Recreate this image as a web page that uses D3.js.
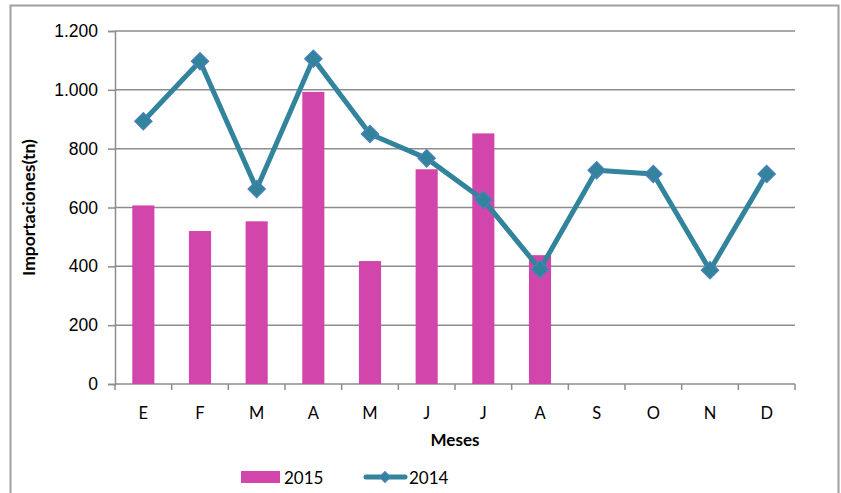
<!DOCTYPE html>
<html>
<head>
<meta charset="utf-8">
<script src="https://cdn.jsdelivr.net/npm/d3@7"></script>
<style>
  body { margin: 0; background: #fff; }
  svg { font-family: Lato, "Open Sans", sans-serif; }
</style>
</head>
<body>
<div id="place"></div>
<script>
// datos
let meses = ["E", "F", "M", "A", "M", "J", "J", "A", "S", "O", "N", "D"];
let valores2015 = [607, 520, 553, 993, 418, 730, 852, 438];
let valores2014 = [893, 1097, 663, 1106, 850, 767, 626, 390, 727, 714, 387, 714];
let ticksY = [0, 200, 400, 600, 800, 1000, 1200];

const W = 841, H = 493;
const margin = { top: 31, right: 46, bottom: 109, left: 115 },
    width = W - margin.left - margin.right,
    height = H - margin.top - margin.bottom;

let svg = d3.select("#place").append("svg")
    .attr("width", W)
    .attr("height", H);

// marco exterior
svg.append("path")
    .attr("d", "M10.5," + H + "V5.5H838.5V" + H)
    .attr("fill", "none")
    .attr("stroke", "#a0a0a0")
    .attr("stroke-width", 2);

let g = svg.append("g")
    .attr("transform", "translate(" + margin.left + "," + margin.top + ")");

let x = d3.scaleBand()
    .domain(d3.range(meses.length))
    .range([0, width]);

let y = d3.scaleLinear()
    .domain([0, 1200])
    .range([height, 0]);

const fmt = d => d3.format(",")(d).replace(/,/g, ".");

// grilla
g.selectAll(".grid")
    .data(ticksY.filter(d => d > 0))
    .join("line")
    .attr("x1", 0).attr("x2", width)
    .attr("y1", d => y(d)).attr("y2", d => y(d))
    .attr("stroke", "#8c8c8c")
    .attr("stroke-width", 1.5);

// eje y
let axisY = g.append("g")
    .call(d3.axisLeft(y).tickValues(ticksY).tickFormat(fmt).tickSize(7).tickPadding(10));
axisY.select(".domain").attr("stroke", "#8c8c8c").attr("stroke-width", 1.5);
axisY.selectAll(".tick line").attr("stroke", "#8c8c8c").attr("stroke-width", 1.5);
axisY.selectAll("text").attr("font-size", 17.5).attr("fill", "#000");

// eje x
let axisX = g.append("g")
    .attr("transform", "translate(0," + height + ")");
axisX.append("line")
    .attr("x1", 0).attr("x2", width)
    .attr("stroke", "#8c8c8c").attr("stroke-width", 1.5);
axisX.selectAll(".tk")
    .data(d3.range(meses.length + 1))
    .join("line")
    .attr("x1", d => d * x.step()).attr("x2", d => d * x.step())
    .attr("y1", 0).attr("y2", 6)
    .attr("stroke", "#8c8c8c").attr("stroke-width", 1.5);
axisX.selectAll(".lbl")
    .data(meses)
    .join("text")
    .attr("x", (d, i) => x(i) + x.bandwidth() / 2)
    .attr("y", 35)
    .attr("text-anchor", "middle")
    .attr("font-size", 16.5)
    .text(d => d);

// barras 2015
const barW = x.bandwidth() * 0.39;
g.selectAll(".bar")
    .data(valores2015)
    .join("rect")
    .attr("x", (d, i) => x(i) + (x.bandwidth() - barW) / 2)
    .attr("y", d => y(d))
    .attr("width", barW)
    .attr("height", d => height - y(d))
    .attr("fill", "#d246ab");

// linea 2014
let linea = d3.line()
    .x((d, i) => x(i) + x.bandwidth() / 2)
    .y(d => y(d));

g.append("path")
    .datum(valores2014)
    .attr("d", linea)
    .attr("fill", "none")
    .attr("stroke", "#31849b")
    .attr("stroke-width", 5)
    .attr("stroke-linejoin", "round");

let diamante = d3.symbol().type(d3.symbolSquare).size(150);
g.selectAll(".pt")
    .data(valores2014)
    .join("path")
    .attr("d", diamante)
    .attr("transform", (d, i) => "translate(" + (x(i) + x.bandwidth() / 2) + "," + y(d) + ") rotate(45)")
    .attr("fill", "#31849b")
    .attr("stroke", "#4f7ec0")
    .attr("stroke-width", 1.2);

// titulos
svg.append("text")
    .attr("x", margin.left + width / 2)
    .attr("y", 446)
    .attr("text-anchor", "middle")
    .attr("font-size", 17)
    .attr("font-weight", "bold")
    .text("Meses");

svg.append("text")
    .attr("transform", "translate(35," + (margin.top + height / 2) + ") rotate(-90)")
    .attr("text-anchor", "middle")
    .attr("font-size", 17.5)
    .attr("font-weight", "bold")
    .text("Importaciones(tn)");

// leyenda
let ley = svg.append("g");
ley.append("rect")
    .attr("x", 241).attr("y", 471)
    .attr("width", 39).attr("height", 12)
    .attr("fill", "#d246ab");
ley.append("text")
    .attr("x", 284).attr("y", 484)
    .attr("font-size", 17)
    .text("2015");
ley.append("line")
    .attr("x1", 366).attr("x2", 405)
    .attr("y1", 477).attr("y2", 477)
    .attr("stroke", "#31849b")
    .attr("stroke-width", 5)
    .attr("stroke-linecap", "round");
ley.append("path")
    .attr("d", d3.symbol().type(d3.symbolSquare).size(60))
    .attr("transform", "translate(385,477) rotate(45)")
    .attr("fill", "#31849b")
    .attr("stroke", "#4f7ec0")
    .attr("stroke-width", 1);
ley.append("text")
    .attr("x", 409).attr("y", 484)
    .attr("font-size", 17)
    .text("2014");
</script>
</body>
</html>
